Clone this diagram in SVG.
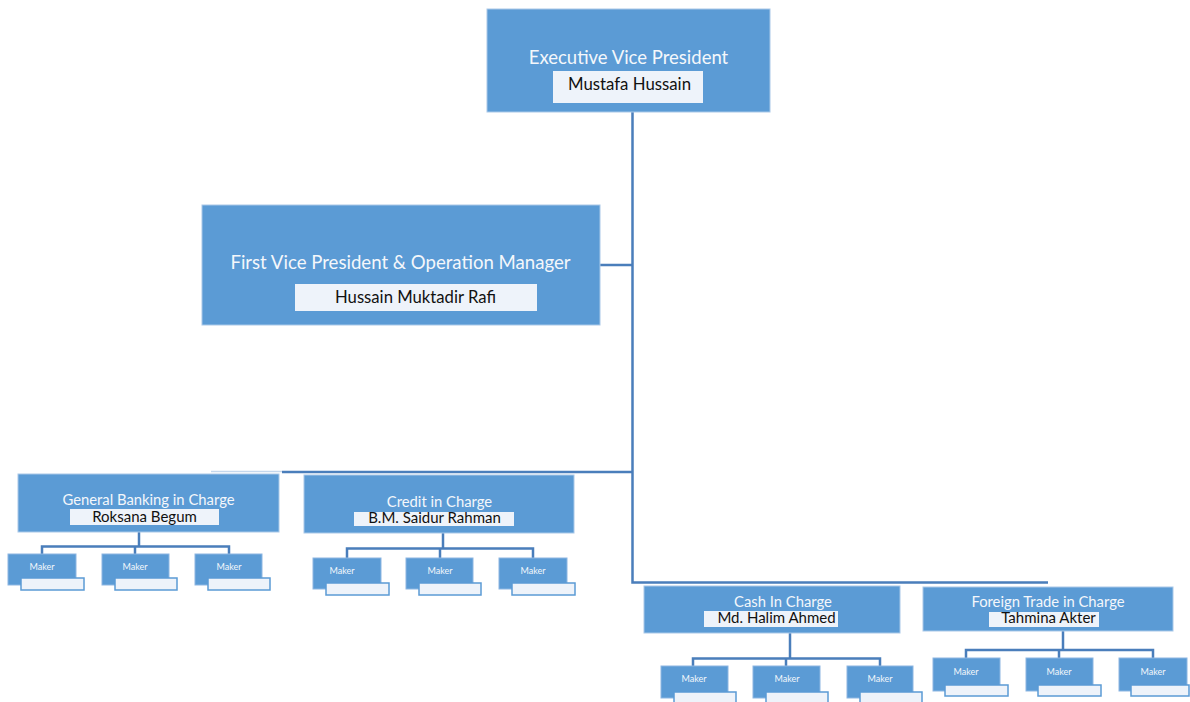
<svg xmlns="http://www.w3.org/2000/svg" width="1190" height="702" viewBox="0 0 1190 702">
<style>
.box{fill:#5B9BD5;stroke:#A9C8E8;stroke-width:1}
.nb{fill:#EEF3FA;stroke:none}
.t{font-family:Lato,"Liberation Sans",sans-serif;fill:#F4F7FB;text-anchor:middle}
.n{font-family:Lato,"Liberation Sans",sans-serif;fill:#111111;text-anchor:middle}
.mk{fill:#5B9BD5;stroke:#8DB6E2;stroke-width:1}
.sh{fill:#EEF3FA;stroke:#5B9BD5;stroke-width:1.5}
.mt{font-family:Lato,"Liberation Sans",sans-serif;fill:#F4F7FB;text-anchor:middle;font-size:9px}
.c{fill:none;stroke:#4A7EBB;stroke-width:2.5}
</style>
<rect width="1190" height="702" fill="#FFFFFF"/>
<g id="connectors">
<line x1="211" y1="471.5" x2="282" y2="471.5" stroke="#C5D7EC" stroke-width="1.5"/>
<polyline class="c" points="282,472 632.5,472"/>
<polyline class="c" points="632.5,112 632.5,582.5 1048,582.5"/>
<polyline class="c" points="600,265 632.5,265"/>
<polyline class="c" points="139,532 139,546.5"/>
<polyline class="c" points="42,554 42,546.5 229,546.5 229,554"/>
<polyline class="c" points="135,546.5 135,554"/>
<polyline class="c" points="443,533 443,548.5"/>
<polyline class="c" points="347,558 347,548.5 533,548.5 533,558"/>
<polyline class="c" points="440,548.5 440,558"/>
<polyline class="c" points="790,633 790,658.5"/>
<polyline class="c" points="693,666 693,658.5 880,658.5 880,666"/>
<polyline class="c" points="786,658.5 786,666"/>
<polyline class="c" points="1063,631 1063,650"/>
<polyline class="c" points="966,658 966,650 1153,650 1153,658"/>
<polyline class="c" points="1059,650 1059,658"/>
</g>
<g id="evp">
<rect class="box" x="487" y="9" width="283" height="103"/>
<text class="t" x="628.5" y="64" font-size="18.5">Executive Vice President</text>
<rect class="nb" x="553" y="71" width="150" height="32"/>
<text class="n" x="629.5" y="90" font-size="16.8">Mustafa Hussain</text>
</g>
<g id="fvp">
<rect class="box" x="202" y="205" width="398" height="120"/>
<text class="t" x="400.5" y="269" font-size="18.6">First Vice President &amp; Operation Manager</text>
<rect class="nb" x="295" y="284" width="242" height="27"/>
<text class="n" x="415.5" y="303" font-size="16.7">Hussain Muktadir Rafi</text>
</g>
<g id="gb">
<rect class="box" x="18" y="474" width="261" height="58"/>
<text class="t" x="148.5" y="505" font-size="14.8">General Banking in Charge</text>
<rect class="nb" x="70" y="509" width="149" height="16"/>
<text class="n" x="144.5" y="522" font-size="15">Roksana Begum</text>
</g>
<g id="credit">
<rect class="box" x="304" y="475" width="270" height="58"/>
<text class="t" x="439.5" y="507" font-size="14.8">Credit in Charge</text>
<rect class="nb" x="354" y="512" width="160" height="14"/>
<text class="n" x="434.5" y="523" font-size="15">B.M. Saidur Rahman</text>
</g>
<g id="cash">
<rect class="box" x="644" y="586" width="256" height="47"/>
<text class="t" x="783" y="607" font-size="14.8">Cash In Charge</text>
<rect class="nb" x="704" y="611" width="134" height="16"/>
<text class="n" x="776.5" y="623" font-size="15">Md. Halim Ahmed</text>
</g>
<g id="foreign">
<rect class="box" x="923" y="587" width="250" height="44"/>
<text class="t" x="1048" y="607" font-size="14.8">Foreign Trade in Charge</text>
<rect class="nb" x="989" y="612" width="110" height="15"/>
<text class="n" x="1048.5" y="623" font-size="15">Tahmina Akter</text>
</g>
<g id="gb-makers">
<g id="gb-m1"><rect class="mk" x="8" y="554" width="68" height="31"/><rect class="sh" x="21" y="578" width="63" height="12"/><text class="mt" x="42" y="570">Maker</text></g>
<g id="gb-m2"><rect class="mk" x="102" y="554" width="67" height="31"/><rect class="sh" x="115" y="578" width="62" height="12"/><text class="mt" x="135" y="570">Maker</text></g>
<g id="gb-m3"><rect class="mk" x="195" y="554" width="67" height="31"/><rect class="sh" x="208" y="578" width="62" height="12"/><text class="mt" x="229" y="570">Maker</text></g>
</g>
<g id="credit-makers">
<g id="cr-m1"><rect class="mk" x="313" y="558" width="68" height="31"/><rect class="sh" x="326" y="583" width="63" height="12"/><text class="mt" x="342" y="574">Maker</text></g>
<g id="cr-m2"><rect class="mk" x="406" y="558" width="67" height="31"/><rect class="sh" x="419" y="583" width="62" height="12"/><text class="mt" x="440" y="574">Maker</text></g>
<g id="cr-m3"><rect class="mk" x="499" y="558" width="68" height="31"/><rect class="sh" x="512" y="583" width="63" height="12"/><text class="mt" x="533" y="574">Maker</text></g>
</g>
<g id="cash-makers">
<g id="ca-m1"><rect class="mk" x="661" y="666" width="67" height="32"/><rect class="sh" x="674" y="692" width="62" height="12"/><text class="mt" x="694" y="682">Maker</text></g>
<g id="ca-m2"><rect class="mk" x="753" y="666" width="67" height="32"/><rect class="sh" x="766" y="692" width="62" height="12"/><text class="mt" x="787" y="682">Maker</text></g>
<g id="ca-m3"><rect class="mk" x="847" y="666" width="66" height="32"/><rect class="sh" x="860" y="692" width="62" height="12"/><text class="mt" x="880" y="682">Maker</text></g>
</g>
<g id="ft-makers">
<g id="ft-m1"><rect class="mk" x="933" y="658" width="67" height="33"/><rect class="sh" x="945" y="685" width="63" height="11"/><text class="mt" x="966" y="675">Maker</text></g>
<g id="ft-m2"><rect class="mk" x="1026" y="658" width="67" height="33"/><rect class="sh" x="1038" y="685" width="63" height="11"/><text class="mt" x="1059" y="675">Maker</text></g>
<g id="ft-m3"><rect class="mk" x="1119" y="658" width="68" height="33"/><rect class="sh" x="1131" y="685" width="58" height="11"/><text class="mt" x="1153" y="675">Maker</text></g>
</g>
</svg>
